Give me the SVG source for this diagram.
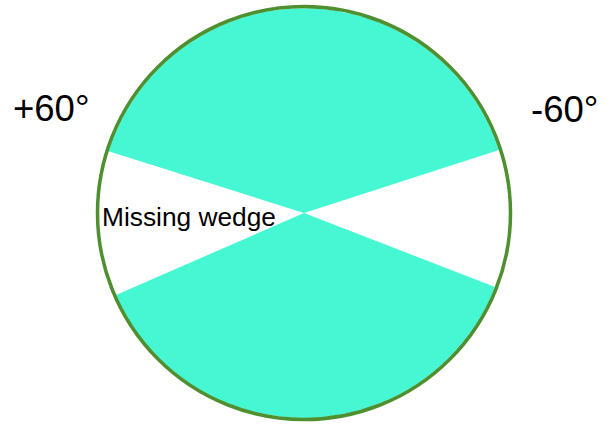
<svg xmlns="http://www.w3.org/2000/svg" width="616" height="427" viewBox="0 0 616 427">
<style>
.wedge{fill:#45f8d3;stroke:none}
.rim{fill:none;stroke:#4e8f2f;stroke-width:3.5}
.lbl{font-family:"Liberation Sans",Arial,sans-serif;fill:#000}
</style>
<rect width="616" height="427" fill="#fff"/>
<g id="sector-top"><path class="wedge" d="M304,213 L108.6,151.2 A205,205 0 0 1 499,150 Z"/></g>
<g id="sector-bottom"><path class="wedge" d="M304,213 L495,287 A205,205 0 0 1 116,295 Z"/></g>
<g id="circle"><circle class="rim" cx="304" cy="213" r="206.5"/></g>
<g id="label-missing"><text class="lbl" x="102" y="226" font-size="26.3">Missing wedge</text></g>
<g id="label-plus60"><text class="lbl" x="13" y="121" font-size="36.5">+60°</text></g>
<g id="label-minus60"><text class="lbl" x="531" y="122" font-size="36.5">-60°</text></g>
</svg>
